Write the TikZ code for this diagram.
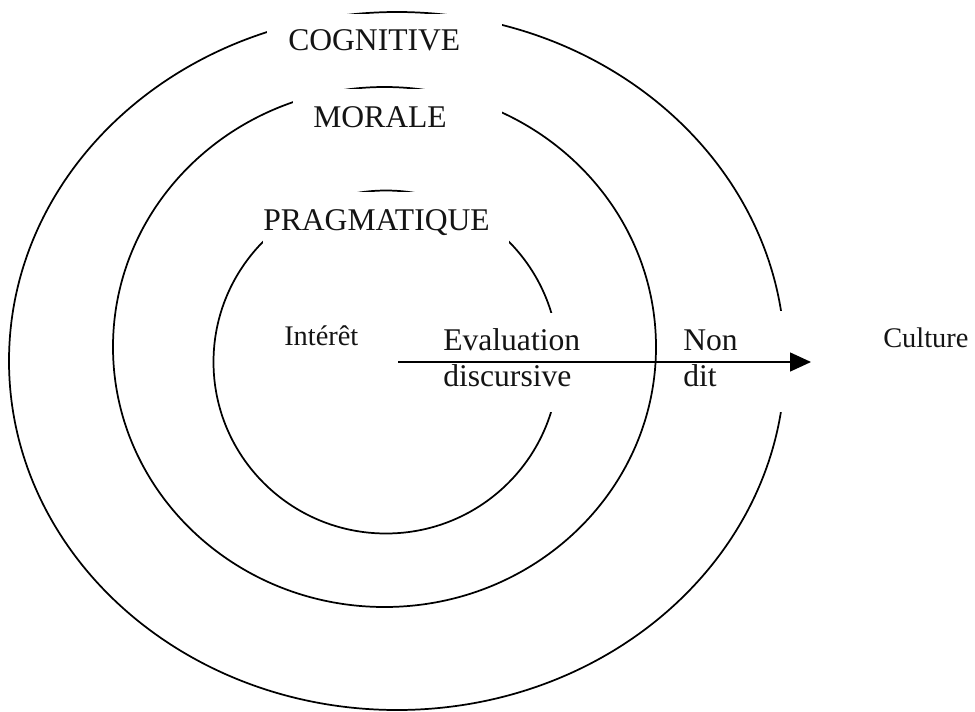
\documentclass[tikz,border=0pt]{standalone}
\usepackage{fontspec}
\setmainfont{Liberation Serif}
\usetikzlibrary{arrows.meta}
\begin{document}
\begin{tikzpicture}[x=0.75pt,y=-0.75pt,
  ring/.style={line width=1.3pt, draw=black},
  mask/.style={fill=white},
  big/.style={inner sep=0pt, anchor=base west, font=\fontsize{23.7}{28}\selectfont, text=black!92},
  small/.style={inner sep=0pt, anchor=base west, font=\fontsize{21.3}{25}\selectfont, text=black!92},
  arrowline/.style={line width=1.1pt, draw=black, -{Triangle[length=15.75pt, width=14.25pt]}}
]
\useasboundingbox (0,0) rectangle (975,711);
% rings
\draw[ring] (397,361) ellipse [x radius=388, y radius=349];
\draw[ring] (384.5,347) ellipse [x radius=271.5, y radius=260];
\draw[ring] (386,362) ellipse [x radius=172.5, y radius=171.5];
% white text boxes that break the rings
\fill[mask] (267,13.5) rectangle (502,70);
\fill[mask] (293,88.5) rectangle (502,145);
\fill[mask] (263,192) rectangle (509,255);
\fill[mask] (430,313) rectangle (600,412);
\fill[mask] (670,311) rectangle (787,412);
% labels
\node[big] (cog) at (288,50) {COGNITIVE};
\node[big] (mor) at (313,127) {MORALE};
\node[big] (prag) at (263,230) {PRAGMATIQUE};
\node[small] (int) at (284,345) {Intérêt};
\node[big] (eval) at (443,350) {Evaluation};
\node[big] (disc) at (443,386) {discursive};
\node[big] (non) at (683,350) {Non};
\node[big] (dit) at (683,386) {dit};
\node[small] (cult) at (883,347) {Culture};
% arrow
\coordinate (astart) at (398,362);
\coordinate (aend) at (811,362);
\draw[arrowline] (astart) -- (aend);
\end{tikzpicture}
\end{document}
